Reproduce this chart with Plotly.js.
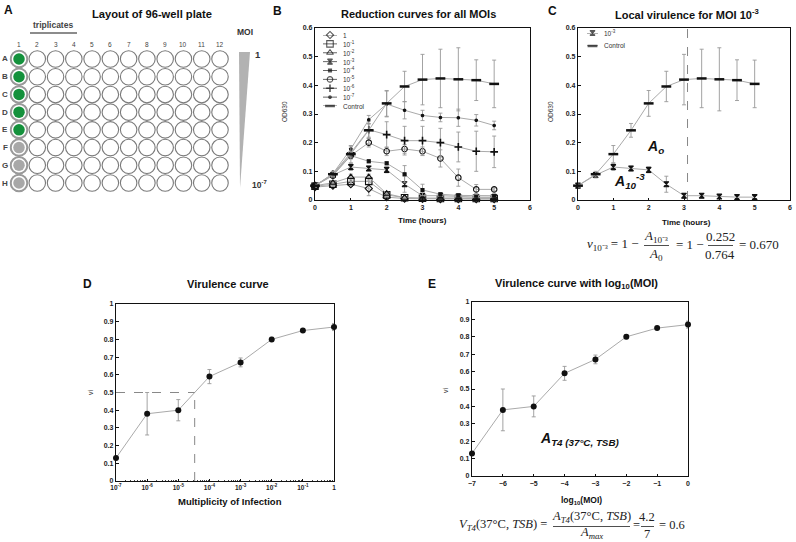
<!DOCTYPE html>
<html><head><meta charset="utf-8">
<script src="https://cdn.plot.ly/plotly-3.0.1.min.js"></script>
<style>html,body{margin:0;padding:0;background:#fff}</style>
</head><body><div id="chart" style="width:796px;height:542px"></div>
<script>
// ---------- DATA ----------
// Panel A: plate layout
const plateRows = ['A','B','C','D','E','F','G','H'];
const plateCols = [1,2,3,4,5,6,7,8,9,10,11,12];
const col1State = ['infected','infected','infected','infected','infected','blank','blank','blank'];

// Panel B: reduction curves (OD630 vs time)
const timeHours = [0,0.5,1,1.5,2,2.5,3,3.5,4,4.5,5];
const seriesLabels = ['1','10<sup>-1</sup>','10<sup>-2</sup>','10<sup>-3</sup>','10<sup>-4</sup>','10<sup>-5</sup>','10<sup>-6</sup>','10<sup>-7</sup>','Control'];
const od_moi1   = [0.045,0.050,0.055,0.040,0.010,0.005,0.004,0.003,0.003,0.003,0.003];
const od_moi1e1 = [0.048,0.055,0.065,0.065,0.018,0.008,0.006,0.005,0.005,0.005,0.005];
const od_moi1e2 = [0.050,0.060,0.080,0.080,0.022,0.008,0.006,0.006,0.006,0.006,0.008];
const od_moi1e3 = [0.050,0.087,0.115,0.110,0.105,0.055,0.015,0.015,0.012,0.010,0.010];
const od_moi1e4 = [0.050,0.088,0.155,0.135,0.128,0.090,0.035,0.020,0.016,0.015,0.015];
const od_moi1e5 = [0.050,0.085,0.155,0.200,0.170,0.178,0.170,0.145,0.078,0.037,0.037];
const od_moi1e6 = [0.050,0.090,0.165,0.245,0.228,0.207,0.207,0.200,0.185,0.170,0.168];
const od_moi1e7 = [0.050,0.092,0.178,0.280,0.335,0.313,0.295,0.288,0.287,0.278,0.260];
const od_control= [0.050,0.090,0.160,0.243,0.337,0.396,0.420,0.424,0.421,0.418,0.405];
const sd_moi1   = [0.004,0.005,0.006,0.025,0.005,0.003,0.002,0.002,0.002,0.002,0.002];
const sd_moi1e1 = [0.004,0.008,0.010,0.010,0.005,0.003,0.002,0.002,0.002,0.002,0.002];
const sd_moi1e2 = [0.004,0.008,0.010,0.010,0.006,0.003,0.002,0.002,0.002,0.002,0.003];
const sd_moi1e3 = [0.005,0.010,0.012,0.008,0.010,0.028,0.008,0.006,0.006,0.006,0.006];
const sd_moi1e4 = [0.004,0.006,0.010,0.006,0.006,0.030,0.020,0.006,0.005,0.005,0.005];
const sd_moi1e5 = [0.004,0.006,0.012,0.015,0.015,0.015,0.015,0.030,0.030,0.017,0.005];
const sd_moi1e6 = [0.004,0.008,0.015,0.030,0.045,0.050,0.050,0.050,0.052,0.070,0.055];
const sd_moi1e7 = [0.004,0.008,0.010,0.015,0.045,0.030,0.018,0.015,0.030,0.020,0.015];
const sd_control= [0.005,0.010,0.030,0.024,0.045,0.053,0.088,0.102,0.110,0.071,0.083];

// Panel C
const cutoffTime = 3.1;

// Panels D/E: virulence curve
const moiValues = [1e-7,1e-6,1e-5,1e-4,1e-3,1e-2,1e-1,1];
const viValues  = [0.13,0.38,0.40,0.59,0.67,0.80,0.85,0.87];
const viErrors  = [0.010,0.120,0.060,0.040,0.025,0.012,0.008,0.020];

// ---------- STYLE ----------
const W = 796, H = 542;
const px = x => x / W, py = y => 1 - y / H;
const SANS = 'Liberation Sans, Arial, sans-serif';
const SERIF = 'Liberation Serif, Times New Roman, serif';
const LINEC = '#aaaaaa', ERRC = '#999999', MK = '#111111';

const bMeans = [od_moi1,od_moi1e1,od_moi1e2,od_moi1e3,od_moi1e4,od_moi1e5,od_moi1e6,od_moi1e7,od_control];
const bErrs  = [sd_moi1,sd_moi1e1,sd_moi1e2,sd_moi1e3,sd_moi1e4,sd_moi1e5,sd_moi1e6,sd_moi1e7,sd_control];
const bStyles = [
  {symbol:'diamond-open', size:5.5},
  {symbol:'square-open', size:6.5},
  {symbol:'triangle-up-open', size:6},
  {symbol:'hourglass', size:5},
  {symbol:'square', size:3},
  {symbol:'circle-open', size:5.5},
  {symbol:'cross-thin-open', size:5.5, lw:1.6},
  {symbol:'circle', size:2.5},
  {symbol:'line-ew-open', size:7, lw:2.5}
];
function markerOf(st){
  return {symbol:st.symbol, size:st.size, color:MK, line:{color:MK, width: st.lw || 1.1}};
}

const traces = [];

// plate geometry (pixel positions of well centres)
const plateX0 = 19, plateX1 = 220, plateY0 = 59, plateY1 = 183;
const colPx = c => plateX0 + (c - plateCols[0]) * (plateX1 - plateX0) / (plateCols.length - 1);
const rowPx = i => plateY0 + i * (plateY1 - plateY0) / (plateRows.length - 1);

// Panel A wells
const wx = [], wy = [];
plateRows.forEach((r,ri)=>plateCols.forEach(c=>{ wx.push(c); wy.push(ri); }));
traces.push({type:'scatter', mode:'markers', x:wx, y:wy, xaxis:'x', yaxis:'y', cliponaxis:false,
  marker:{symbol:'circle', size:16.5, color:'#ffffff', line:{color:'#7a7a7a', width:1.1}}, hoverinfo:'skip'});
traces.push({type:'scatter', mode:'markers', x:plateRows.map(()=>plateCols[0]), y:plateRows.map((r,i)=>i), xaxis:'x', yaxis:'y', cliponaxis:false,
  marker:{symbol:'circle', size:16.5, color:'#ffffff', line:{color:'#9a9a9a', width:2}}, hoverinfo:'skip'});
traces.push({type:'scatter', mode:'markers', x:plateRows.map(()=>plateCols[0]), y:plateRows.map((r,i)=>i), xaxis:'x', yaxis:'y', cliponaxis:false,
  marker:{symbol:'circle', size:11.5, color:col1State.map(s=> s==='infected' ? '#14913c' : '#a8a8a8'), line:{width:0}}, hoverinfo:'skip'});

// Panel B curves
bMeans.forEach((m,i)=>{
  traces.push({type:'scatter', mode:'lines+markers', x:timeHours, y:m, xaxis:'x2', yaxis:'y2', cliponaxis:false,
    line:{color:LINEC, width:1}, marker:markerOf(bStyles[i]),
    error_y:{type:'data', array:bErrs[i], visible:true, color:ERRC, thickness:0.9, width:2}});
});
// Panel B legend samples
bStyles.forEach((st,i)=>{
  traces.push({type:'scatter', mode:'lines+markers', x:[0,0.5,1], y:[i,i,i], xaxis:'x6', yaxis:'y6', cliponaxis:false,
    line:{color:'#666', width:1}, marker:Object.assign(markerOf(st),{size:[0,st.size,0]}), hoverinfo:'skip'});
});

// Panel C curves (10^-3 and control)
const cIdx = [3,8];
cIdx.forEach(i=>{
  traces.push({type:'scatter', mode:'lines+markers', x:timeHours, y:bMeans[i], xaxis:'x3', yaxis:'y3', cliponaxis:false,
    line:{color:LINEC, width:1}, marker:markerOf(bStyles[i]),
    error_y:{type:'data', array:bErrs[i], visible:true, color:ERRC, thickness:0.9, width:2}});
});
cIdx.forEach((i,k)=>{
  traces.push({type:'scatter', mode:'lines+markers', x:[0,0.5,1], y:[k,k,k], xaxis:'x7', yaxis:'y7', cliponaxis:false,
    line:{color:'#666', width:1}, marker:Object.assign(markerOf(bStyles[i]),{size:[0,bStyles[i].size,0]}), hoverinfo:'skip'});
});

// Panel D and E
const logMoi = moiValues.map(v=>Math.round(Math.log10(v)));
traces.push({type:'scatter', mode:'lines+markers', x:moiValues, y:viValues, xaxis:'x4', yaxis:'y4', cliponaxis:false,
  line:{color:LINEC, width:1}, marker:{symbol:'circle', size:6, color:MK},
  error_y:{type:'data', array:viErrors, visible:true, color:ERRC, thickness:0.9, width:2}});
traces.push({type:'scatter', mode:'lines+markers', x:logMoi, y:viValues, xaxis:'x5', yaxis:'y5', cliponaxis:false,
  line:{color:LINEC, width:1}, marker:{symbol:'circle', size:6, color:MK},
  error_y:{type:'data', array:viErrors, visible:true, color:ERRC, thickness:0.9, width:2}});

// MOI at vi = 0.5 (interpolated in log space)
let lx50 = null;
for (let i=0;i<viValues.length-1;i++){
  if (viValues[i] < 0.5 && viValues[i+1] >= 0.5){
    lx50 = logMoi[i] + (0.5-viValues[i])/(viValues[i+1]-viValues[i])*(logMoi[i+1]-logMoi[i]);
    break;
  }
}

// ---------- AXES ----------
const tickF = {family:SANS, size:7, color:'#222', weight:'bold'};
function frame(domain, range, extra){
  return Object.assign({domain:domain, range:range, showline:true, mirror:true, linecolor:'#111', linewidth:1.2,
    showgrid:false, zeroline:false, ticks:'inside', ticklen:2.5, tickcolor:'#111', tickfont:tickF, fixedrange:true}, extra||{});
}
function hidden(domain, range, anchor){
  return {domain:domain, range:range, visible:false, fixedrange:true, anchor:anchor};
}

const legB = {x0:323, x1:337, y0:35, y1:106};
const legC = {x0:587, x1:598, y0:33, y1:46};

const layout = {
  width:W, height:H, margin:{l:0,r:0,t:0,b:0}, paper_bgcolor:'#fff', plot_bgcolor:'rgba(0,0,0,0)',
  showlegend:false, font:{family:SANS},
  xaxis: hidden([px(plateX0),px(plateX1)], [plateCols[0],plateCols[plateCols.length-1]], 'y'),
  yaxis: hidden([py(plateY1),py(plateY0)], [plateRows.length-1,0], 'x'),
  xaxis2: frame([px(315),px(530)], [0,6], {anchor:'y2', dtick:1, tick0:0}),
  yaxis2: frame([py(200),py(28)], [0,0.6], {anchor:'x2', dtick:0.1, tick0:0}),
  xaxis3: frame([px(578),px(790)], [0,6], {anchor:'y3', dtick:1, tick0:0}),
  yaxis3: frame([py(200),py(28)], [0,0.6], {anchor:'x3', dtick:0.1, tick0:0}),
  xaxis4: frame([px(116),px(334)], [-7,0], {anchor:'y4', type:'log', tickvals:moiValues,
     ticktext:logMoi.map(l=> l===0 ? '1' : '10<sup>'+l+'</sup>'), tickfont:Object.assign({},tickF,{size:6.5}),
     minor:{ticks:'inside', ticklen:1.5, tickcolor:'#444', dtick:'D1'}}),
  yaxis4: frame([py(481),py(304)], [0,1], {anchor:'x4', dtick:0.1, tick0:0}),
  xaxis5: frame([px(472),px(688)], [-7,0], {anchor:'y5', dtick:1, tick0:0}),
  yaxis5: frame([py(476),py(302)], [0,1], {anchor:'x5', dtick:0.1, tick0:0}),
  xaxis6: hidden([px(legB.x0),px(legB.x1)], [0,1], 'y6'),
  yaxis6: hidden([py(legB.y1),py(legB.y0)], [seriesLabels.length-1,0], 'x6'),
  xaxis7: hidden([px(legC.x0),px(legC.x1)], [0,1], 'y7'),
  yaxis7: hidden([py(legC.y1),py(legC.y0)], [1,0], 'x7'),
  shapes: [], annotations: []
};

// ---------- SHAPES ----------
const S = layout.shapes;
S.push({type:'path', xref:'paper', yref:'paper', path:`M ${px(239)},${py(52)} L ${px(250)},${py(52)} L ${px(240)},${py(188)} Z`,
  fillcolor:'#b2b2b2', line:{width:0}});
S.push({type:'line', xref:'paper', yref:'paper', x0:px(30), x1:px(77), y0:py(33), y1:py(33), line:{color:'#666', width:1.5}});
S.push({type:'line', xref:'x3', yref:'y3', x0:cutoffTime, x1:cutoffTime, y0:0, y1:0.6, line:{color:'#888', width:1, dash:'dash'}});
if (lx50 !== null){
  S.push({type:'line', xref:'x4', yref:'y4', x0:moiValues[0], x1:Math.pow(10,lx50), y0:0.5, y1:0.5, line:{color:'#888', width:1, dash:'dash'}});
  S.push({type:'line', xref:'x4', yref:'y4', x0:Math.pow(10,lx50), x1:Math.pow(10,lx50), y0:0, y1:0.5, line:{color:'#888', width:1, dash:'dash'}});
}
function fracLine(x0,x1,y){ S.push({type:'line', xref:'paper', yref:'paper', x0:px(x0), x1:px(x1), y0:py(y), y1:py(y), line:{color:'#222', width:0.8}}); }
fracLine(644,669,245.5);
fracLine(708,733,245.5);
fracLine(553,630,526.5);
fracLine(641,654,526.5);

// ---------- ANNOTATIONS ----------
const A = layout.annotations;
function ann(text,x,y,o){
  o = o||{};
  A.push({text:text, x:px(x), y:py(y), xref:'paper', yref:'paper', showarrow:false,
    xanchor:o.xa||'center', yanchor:'middle', textangle:o.rot||0,
    font:{family:o.fam||SANS, size:o.size||8, color:o.color||'#111', weight:o.bold?'bold':'normal', style:o.it?'italic':'normal'}});
}
// panel letters
ann('A',8,10,{size:12,bold:true}); ann('B',277,11,{size:12,bold:true}); ann('C',552,11,{size:12,bold:true});
ann('D',87,284,{size:12,bold:true}); ann('E',432,284,{size:12,bold:true});
// titles
ann('Layout of 96-well plate',152,14,{size:11.2,bold:true});
ann('Reduction curves for all MOIs',418,14,{size:11,bold:true});
ann('Local virulence for MOI 10<sup>-3</sup>',687,14,{size:11,bold:true});
ann('Virulence curve',228,284,{size:11,bold:true});
ann('Virulence curve with log<sub>10</sub>(MOI)',576,284,{size:11,bold:true});
// plate labels
plateCols.forEach(c=> ann(String(c), colPx(c), 44, {size:6.5, color:'#444'}));
plateRows.forEach((r,i)=> ann(r, 5, rowPx(i), {size:8, bold:true, color:'#444'}));
ann('triplicates',53,25,{size:8.5,bold:true,color:'#444'});
ann('MOI',245,32,{size:8.5,bold:true,color:'#333'});
ann('1',258,55,{size:9.5,bold:true,color:'#333'});
ann('10<sup>-7</sup>',259,185,{size:8.5,bold:true,color:'#333'});
// legend labels
seriesLabels.forEach((t,i)=> ann(t, legB.x1+4, legB.y0 + i*(legB.y1-legB.y0)/(seriesLabels.length-1), {xa:'left', size:6.5, color:'#333'}));
cIdx.forEach((si,k)=> ann(seriesLabels[si], legC.x1+4, legC.y0 + k*(legC.y1-legC.y0), {xa:'left', size:6.5, color:'#333'}));
// axis titles
ann('Time (hours)',422,221,{size:8,bold:true});
ann('Time (hours)',686,222,{size:8,bold:true});
ann('OD630',285,112,{size:6.5,rot:-90,color:'#333'});
ann('OD630',551,112,{size:6.5,rot:-90,color:'#333'});
ann('vi',90,392,{size:7,rot:-90,color:'#333'});
ann('vi',445,390,{size:7,rot:-90,color:'#333'});
ann('Multiplicity of Infection',230,501,{size:9.5,bold:true});
ann('log<sub>10</sub>(MOI)',581,500,{size:8.5,bold:true});
// in-plot labels
A.push({text:'A<sub>o</sub>', x:2.2, y:0.185, xref:'x3', yref:'y3', showarrow:false, font:{family:SANS,size:14,color:'#111',weight:'bold',style:'italic'}});
A.push({text:'A<sub>10</sub><sup>-3</sup>', x:1.45, y:0.065, xref:'x3', yref:'y3', showarrow:false, font:{family:SANS,size:14,color:'#111',weight:'bold',style:'italic'}});
A.push({text:'A<sub>T4 (37°C, TSB)</sub>', x:-3.53, y:0.21, xref:'x5', yref:'y5', showarrow:false, font:{family:SANS,size:14,color:'#111',weight:'bold',style:'italic'}});
// formula C
const fs = {fam:SERIF,size:13,color:'#222'};
ann('<i>v</i><sub>10⁻³</sub> = 1 −',641,244,Object.assign({xa:'right'},fs));
ann('<i>A</i><sub>10⁻³</sub>',656,237,fs);
ann('<i>A</i><sub>0</sub>',656,254,fs);
ann('= 1 −',690,244,fs);
ann('0.252',720,237,fs);
ann('0.764',720,254,fs);
ann('= 0.670',737,244,Object.assign({xa:'left'},fs));
// formula E
const fe = {fam:SERIF,size:12.5,color:'#222'};
ann('<i>V</i><sub><i>T4</i></sub>(37°C, <i>TSB</i>) =',549,525,Object.assign({xa:'right'},fe));
ann('<i>A</i><sub><i>T4</i></sub>(37°C, <i>TSB</i>)',591,517,fe);
ann('<i>A</i><sub><i>max</i></sub>',591,533,fe);
ann('=',636,525,fe);
ann('4.2',647,517,fe);
ann('7',647,534,fe);
ann('= 0.6',657,525,Object.assign({xa:'left'},fe));

Plotly.newPlot('chart', traces, layout, {staticPlot:true, displayModeBar:false});
</script>
</body></html>
